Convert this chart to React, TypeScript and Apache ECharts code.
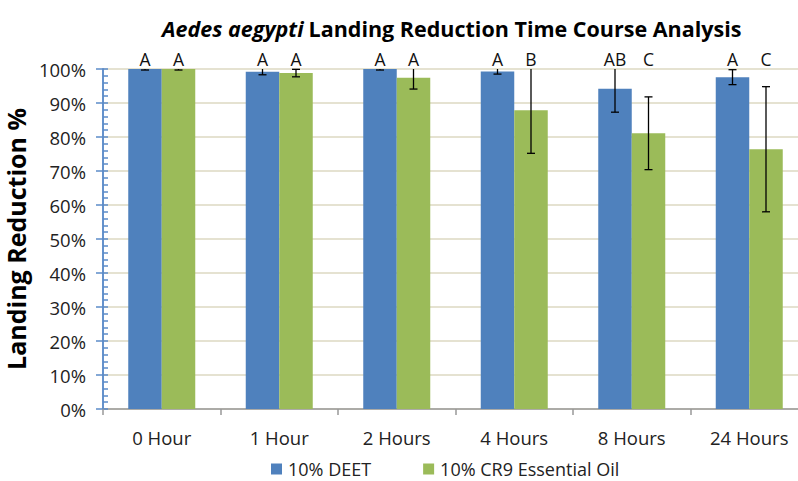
import React, { useEffect, useRef } from "react";
import * as echarts from "echarts";

const categories = ["0 Hour", "1 Hour", "2 Hours", "4 Hours", "8 Hours", "24 Hours"];
const deetValues = [100, 99.2, 100, 99.3, 94.2, 97.6];
const deetErrors = [0.3, 0.9, 0.3, 0.8, 6.9, 2.2];
const cr9Values = [100, 98.8, 97.4, 87.9, 81.1, 76.4];
const cr9Errors = [0.3, 1.1, 3.3, 12.7, 10.7, 18.4];
const deetLetters = ["A", "A", "A", "A", "AB", "A"];
const cr9Letters = ["A", "A", "A", "B", "C", "C"];
const yTicks = [0, 10, 20, 30, 40, 50, 60, 70, 80, 90, 100];

const FONT = "'Open Sans', sans-serif";
const BAR_W = 33.5;
const BLUE = "#4F81BD";
const GREEN = "#9BBB59";

function makeErrorSeries(name: string, values: number[], errors: number[], letters: string[], sign: number) {
  return {
    name,
    type: "custom",
    z: 5,
    clip: false,
    silent: true,
    data: values.map((v, i) => [i, v, errors[i]]),
    renderItem: (params: any, api: any) => {
      const i = api.value(0);
      const v = api.value(1);
      const e = api.value(2);
      const c = api.coord([i, v]);
      const x = c[0] + (sign * BAR_W) / 2;
      const top = yTicks[yTicks.length - 1];
      const hiVal = Math.min(v + e, top);
      const yHi = api.coord([i, hiVal])[1];
      const yLo = api.coord([i, v - e])[1];
      const yTop = api.coord([i, top])[1];
      const st = { stroke: "#000", lineWidth: 1.3 };
      const children: any[] = [
        { type: "line", shape: { x1: x, y1: yHi, x2: x, y2: yLo }, style: st },
        { type: "line", shape: { x1: x - 4, y1: yLo, x2: x + 4, y2: yLo }, style: st },
      ];
      if (v + e <= top) {
        children.push({ type: "line", shape: { x1: x - 4, y1: yHi, x2: x + 4, y2: yHi }, style: st });
      }
      children.push({
        type: "text",
        style: {
          text: letters[params.dataIndex],
          x,
          y: yTop - 10.5,
          align: "center",
          verticalAlign: "middle",
          fontFamily: FONT,
          fontSize: 17.5,
          fill: "#111",
        },
      });
      return { type: "group", children };
    },
  };
}

export default function App() {
  const ref = useRef<HTMLDivElement>(null);
  useEffect(() => {
    if (!ref.current) return;
    const chart = echarts.init(ref.current, null, { renderer: "svg" });
    const yBase = {
      type: "value",
      min: 0,
      max: 100,
      interval: 10,
      position: "left",
    };
    chart.setOption({
      animation: false,
      backgroundColor: "#fff",
      title: {
        left: 157,
        top: 12,
        text: "{i|Aedes aegypti} {b|Landing Reduction Time Course Analysis}",
        textStyle: {
          rich: {
            i: { fontFamily: FONT, fontSize: 21.5, fontWeight: "bold", fontStyle: "italic", color: "#000" },
            b: { fontFamily: FONT, fontSize: 21.5, fontWeight: "bold", color: "#000" },
          },
        },
      },
      grid: { left: 103, top: 69, width: 705, height: 340, containLabel: false, outerBoundsMode: "none" },
      legend: {
        left: 266,
        top: 455,
        itemWidth: 11,
        itemHeight: 11,
        itemGap: 52,
        icon: "rect",
        data: ["10% DEET", "10% CR9 Essential Oil"],
        textStyle: { fontFamily: FONT, fontSize: 18, color: "#222", padding: [0, 0, 0, 1] },
      },
      xAxis: {
        type: "category",
        data: categories,
        axisLine: { lineStyle: { color: "#999", width: 1.5 } },
        axisTick: { show: true, length: 6, lineStyle: { color: "#999", width: 1.5 } },
        axisLabel: { fontFamily: FONT, fontSize: 18.5, color: "#222", margin: 19 },
      },
      yAxis: [
        {
          ...yBase,
          axisLine: { show: true, lineStyle: { color: "#5B8BC8", width: 1.5 } },
          axisTick: { show: true, length: 7, lineStyle: { color: "#5B8BC8", width: 1.5 } },
          axisLabel: {
            fontFamily: FONT,
            fontSize: 18.5,
            color: "#222",
            margin: 17,
            formatter: (v: number) => `${v}%`,
          },
          splitLine: { show: true, lineStyle: { color: "#DDD8C2", width: 1.5 } },
          name: "Landing Reduction %",
          nameLocation: "middle",
          nameGap: 58,
          nameRotate: 90,
          nameTextStyle: { fontFamily: FONT, fontSize: 25, fontWeight: "bold", color: "#000" },
        },
        {
          ...yBase,
          axisLine: { show: true, lineStyle: { color: "#5B8BC8", width: 1.5 } },
          axisTick: { show: true, inside: true, length: 5, lineStyle: { color: "#5B8BC8", width: 1.5 } },
          minorTick: { show: true, splitNumber: 5, length: 5, lineStyle: { color: "#5B8BC8", width: 1.5 } },
          axisLabel: { show: false },
          splitLine: { show: false },
        },
      ],
      series: [
        {
          name: "10% DEET",
          type: "bar",
          data: deetValues,
          barWidth: BAR_W,
          barGap: "0%",
          itemStyle: { color: BLUE },
        },
        {
          name: "10% CR9 Essential Oil",
          type: "bar",
          data: cr9Values,
          barWidth: BAR_W,
          barGap: "0%",
          itemStyle: { color: GREEN },
        },
        makeErrorSeries("deetErr", deetValues, deetErrors, deetLetters, -1),
        makeErrorSeries("cr9Err", cr9Values, cr9Errors, cr9Letters, 1),
      ],
    });
    return () => chart.dispose();
  }, []);
  return <div ref={ref} style={{ position: "absolute", left: 0, top: 0, width: 798, height: 481 }} />;
}
